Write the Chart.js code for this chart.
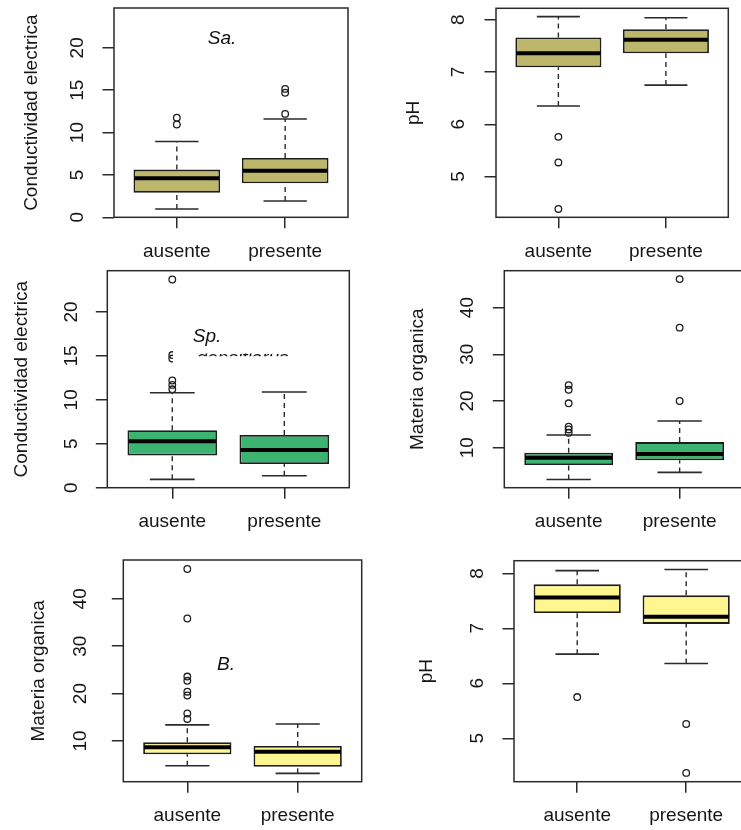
<!DOCTYPE html>
<html>
<head>
<meta charset="utf-8">
<script src="https://cdn.jsdelivr.net/npm/chart.js@4.4.1/dist/chart.umd.min.js"></script>
<style>
  html, body { margin: 0; padding: 0; background: #fff; overflow: hidden; }
  #wrap { position: relative; width: 741px; height: 830px; overflow: hidden; }
  #wrap canvas { position: absolute; left: 0; top: 0; }
</style>
</head>
<body>
<div id="wrap"></div>
<script>
const groups = ['ausente', 'presente'];

// each box: lower whisker, Q1, median, Q3, upper whisker
const saCondAusente = [0.98, 2.9, 4.6, 5.63, 8.95];
const saCondPresente = [1.93, 4.02, 5.48, 7.0, 11.6];
const saCondOutAusente = [10.95, 11.75];
const saCondOutPresente = [12.2, 14.7, 15.15];

const saPhAusente = [6.35, 7.09, 7.36, 7.66, 8.06];
const saPhPresente = [6.75, 7.36, 7.62, 7.82, 8.04];
const saPhOutAusente = [4.38, 5.27, 5.76];
const saPhOutPresente = [];

const spCondAusente = [0.95, 3.67, 5.3, 6.55, 10.8];
const spCondPresente = [1.36, 2.69, 4.28, 6.0, 10.9];
const spCondOutAusente = [11.2, 11.7, 12.2, 14.7, 15.1, 23.7];
const spCondOutPresente = [];

const spMoAusente = [3.2, 6.29, 7.86, 8.93, 12.7];
const spMoPresente = [4.71, 7.29, 8.64, 11.2, 15.7];
const spMoOutAusente = [13.2, 13.9, 14.5, 19.5, 22.4, 23.4];
const spMoOutPresente = [20.0, 35.7, 46.1];

const bMoAusente = [4.79, 7.18, 8.66, 9.72, 13.4];
const bMoPresente = [3.17, 4.58, 7.75, 8.94, 13.6];
const bMoOutAusente = [14.65, 15.8, 19.6, 20.4, 22.7, 23.6, 35.85, 46.3];
const bMoOutPresente = [];

const bPhAusente = [6.53, 7.28, 7.56, 7.8, 8.05];
const bPhPresente = [6.36, 7.08, 7.21, 7.6, 8.07];
const bPhOutAusente = [5.75];
const bPhOutPresente = [4.37, 5.26];

const condTicks = [0, 5, 10, 15, 20];
const phTicks = [5, 6, 7, 8];
const moTicks = [10, 20, 30, 40];

const W = 760, H = 830;
const FONT = '"Liberation Sans", Arial, sans-serif';
const TXT = '#161616';
Chart.defaults.font.family = FONT;

// area = [left, top, right, bottom] of the plot box
const panels = [
  { boxes: [saCondAusente, saCondPresente], outs: [saCondOutAusente, saCondOutPresente],
    ticks: condTicks, min: 0, max: 24.7, fill: '#BDB76B', title: 'Conductividad electrica',
    area: [114, 8, 348, 217.3], labelX: 78, titleX: 32,
    species: { text: 'Sa.', x: 222, y: 43.5 } },
  { boxes: [saPhAusente, saPhPresente], outs: [saPhOutAusente, saPhOutPresente],
    ticks: phTicks, min: 4.22, max: 8.22, fill: '#BDB76B', title: 'pH',
    area: [496, 8.3, 728.3, 217.3], labelX: 458.5, titleX: 414 },
  { boxes: [spCondAusente, spCondPresente], outs: [spCondOutAusente, spCondOutPresente],
    ticks: condTicks, min: 0, max: 24.7, fill: '#3CB371', title: 'Conductividad electrica',
    area: [107.3, 270.7, 349.3, 487.7], labelX: 71.7, titleX: 21.7,
    species: { text: 'Sp.', x: 207, y: 341.5 },
    hidden: { text: 'densiflorus', x: 196.7, y: 364, clip: [353.5, 356.2], cover: [173, 347, 300, 368] } },
  { boxes: [spMoAusente, spMoPresente], outs: [spMoOutAusente, spMoOutPresente],
    ticks: moTicks, min: 1.43, max: 47.9, fill: '#3CB371', title: 'Materia organica',
    area: [504.3, 270.7, 744, 487.7], labelX: 467.3, titleX: 417.3 },
  { boxes: [bMoAusente, bMoPresente], outs: [bMoOutAusente, bMoOutPresente],
    ticks: moTicks, min: 1.41, max: 48.2, fill: '#FFF68F', title: 'Materia organica',
    area: [123.3, 560, 361.7, 781.7], labelX: 81.2, titleX: 39,
    species: { text: 'B.', x: 226, y: 669.5 } },
  { boxes: [bPhAusente, bPhPresente], outs: [bPhOutAusente, bPhOutPresente],
    ticks: phTicks, min: 4.21, max: 8.23, fill: '#FFF68F', title: 'pH',
    area: [514, 560.7, 749.4, 781.7], labelX: 477.3, titleX: 427 }
];

function line(ctx, x1, y1, x2, y2) {
  ctx.beginPath();
  ctx.moveTo(x1, y1);
  ctx.lineTo(x2, y2);
  ctx.stroke();
}

function drawPanel(p) {
  const canvas = document.createElement('canvas');
  canvas.width = W;
  canvas.height = H;
  document.getElementById('wrap').appendChild(canvas);

  const points = [];
  p.outs.forEach((arr, i) => arr.forEach(v => points.push({ x: i + 1, y: v })));

  const boxplot = {
    id: 'boxplot',
    afterDatasetsDraw(chart) {
      const { ctx, scales: { x, y } } = chart;
      const half = x.getPixelForValue(1.4) - x.getPixelForValue(1);
      p.boxes.forEach((s, i) => {
        const cx = x.getPixelForValue(i + 1);
        ctx.save();
        ctx.strokeStyle = '#2a2a2a';
        ctx.lineWidth = 1.4;
        ctx.setLineDash([5, 4]);
        line(ctx, cx, y.getPixelForValue(s[0]), cx, y.getPixelForValue(s[1]));
        line(ctx, cx, y.getPixelForValue(s[3]), cx, y.getPixelForValue(s[4]));
        ctx.setLineDash([]);
        ctx.lineWidth = 1.6;
        line(ctx, cx - half / 2, y.getPixelForValue(s[0]), cx + half / 2, y.getPixelForValue(s[0]));
        line(ctx, cx - half / 2, y.getPixelForValue(s[4]), cx + half / 2, y.getPixelForValue(s[4]));
        // median
        ctx.strokeStyle = '#000';
        ctx.lineWidth = 4;
        line(ctx, cx - half + 1, y.getPixelForValue(s[2]), cx + half - 1, y.getPixelForValue(s[2]));
        ctx.restore();
      });
    },
    afterDraw(chart) {
      const { ctx, chartArea: a, scales: { y } } = chart;
      ctx.save();
      ctx.strokeStyle = '#2a2a2a';
      ctx.lineWidth = 1.5;
      ctx.strokeRect(a.left, a.top, a.right - a.left, a.bottom - a.top);

      // y tick labels, parallel to the axis
      ctx.fillStyle = TXT;
      ctx.font = '19px ' + FONT;
      ctx.textAlign = 'center';
      ctx.textBaseline = 'middle';
      p.ticks.forEach(v => {
        ctx.save();
        ctx.translate(p.labelX, y.getPixelForValue(v));
        ctx.rotate(-Math.PI / 2);
        ctx.fillText(String(v), 0, 0);
        ctx.restore();
      });
      ctx.save();
      ctx.translate(p.titleX, (a.top + a.bottom) / 2);
      ctx.rotate(-Math.PI / 2);
      ctx.fillText(p.title, 0, 0);
      ctx.restore();

      if (p.hidden) {
        const h = p.hidden;
        ctx.fillStyle = '#fff';
        ctx.fillRect(h.cover[0], h.cover[1], h.cover[2] - h.cover[0], h.cover[3] - h.cover[1]);
        ctx.save();
        ctx.beginPath();
        ctx.rect(h.cover[0], h.clip[0], h.cover[2] - h.cover[0], h.clip[1] - h.clip[0]);
        ctx.clip();
        ctx.fillStyle = TXT;
        ctx.font = 'italic 19px ' + FONT;
        ctx.textAlign = 'left';
        ctx.textBaseline = 'alphabetic';
        ctx.fillText(h.text, h.x, h.y);
        ctx.restore();
      }
      if (p.species) {
        ctx.fillStyle = '#111';
        ctx.font = 'italic 19px ' + FONT;
        ctx.textAlign = 'center';
        ctx.textBaseline = 'alphabetic';
        ctx.fillText(p.species.text, p.species.x, p.species.y);
      }
      ctx.restore();
    }
  };

  new Chart(canvas, {
    type: 'bar',
    data: {
      datasets: [{
        data: p.boxes.map((s, i) => ({ x: i + 1, y: [s[1], s[3]] })),
        backgroundColor: p.fill,
        borderColor: '#1e1e1e',
        borderWidth: 1.8,
        borderSkipped: false,
        categoryPercentage: 0.8,
        barPercentage: 1
      }, {
        type: 'scatter',
        data: points,
        pointStyle: 'circle',
        pointRadius: 3.3,
        borderColor: '#1e1e1e',
        borderWidth: 1.3,
        backgroundColor: 'rgba(0,0,0,0)'
      }]
    },
    options: {
      responsive: false,
      animation: false,
      events: [],
      layout: { padding: { left: 0, top: p.area[1], right: W - p.area[2], bottom: 0 } },
      plugins: { legend: { display: false }, tooltip: { enabled: false } },
      scales: {
        x: {
          type: 'linear',
          min: 0.42,
          max: 2.58,
          offset: false,
          afterBuildTicks: s => { s.ticks = groups.map((g, i) => ({ value: i + 1 })); },
          afterFit: s => { s.height = H - p.area[3]; },
          ticks: {
            callback: v => groups[Math.round(v) - 1],
            color: TXT,
            font: { size: 19 },
            padding: 12,
            autoSkip: false,
            maxRotation: 0
          },
          grid: { drawOnChartArea: false, drawTicks: true, tickLength: 11, color: '#2a2a2a', lineWidth: 1.5, offset: false },
          border: { display: false }
        },
        y: {
          type: 'linear',
          min: p.min,
          max: p.max,
          afterBuildTicks: s => { s.ticks = p.ticks.map(v => ({ value: v })); },
          afterFit: s => { s.width = p.area[0]; },
          ticks: { display: false },
          grid: { drawOnChartArea: false, drawTicks: true, tickLength: 11.5, color: '#2a2a2a', lineWidth: 1.5 },
          border: { display: false }
        }
      }
    },
    plugins: [boxplot]
  });
}

panels.forEach(drawPanel);
</script>
</body>
</html>
